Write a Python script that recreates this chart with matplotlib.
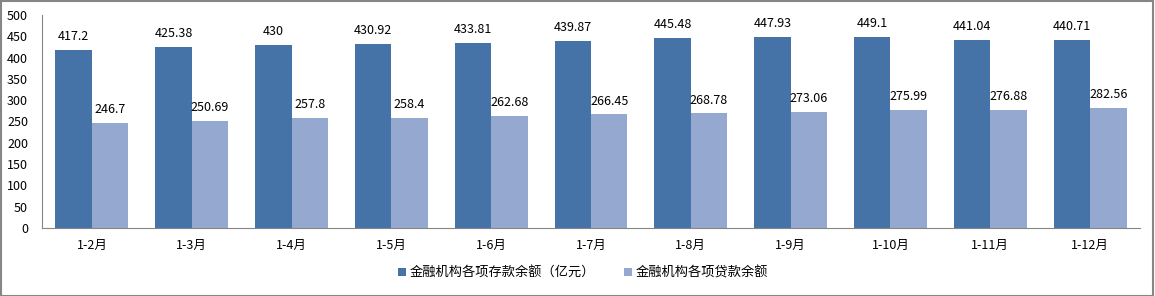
import numpy as np
import matplotlib
matplotlib.use("Agg")
import matplotlib.pyplot as plt

plt.rcParams['font.family'] = ['Noto Sans CJK SC', 'DejaVu Sans']

months = ['1-2月', '1-3月', '1-4月', '1-5月', '1-6月', '1-7月',
          '1-8月', '1-9月', '1-10月', '1-11月', '1-12月']
deposits = [417.2, 425.38, 430, 430.92, 433.81, 439.87,
            445.48, 447.93, 449.1, 441.04, 440.71]
loans = [246.7, 250.69, 257.8, 258.4, 262.68, 266.45,
         268.78, 273.06, 275.99, 276.88, 282.56]
deposit_labels = ['417.2', '425.38', '430', '430.92', '433.81', '439.87',
                  '445.48', '447.93', '449.1', '441.04', '440.71']
loan_labels = ['246.7', '250.69', '257.8', '258.4', '262.68', '266.45',
               '268.78', '273.06', '275.99', '276.88', '282.56']
series_names = ['金融机构各项存款余额（亿元）', '金融机构各项贷款余额']

c_dep = '#4572A7'
c_loan = '#95A9D0'

fig = plt.figure(figsize=(11.55, 2.96), dpi=100)
ax = fig.add_axes([42 / 1155, 1 - 228 / 296, (1140 - 42) / 1155, (228 - 15) / 296])

x = np.arange(len(months))
w = 0.365
b1 = ax.bar(x - w / 2, deposits, w, color=c_dep, label=series_names[0])
b2 = ax.bar(x + w / 2, loans, w, color=c_loan, label=series_names[1])
ax.bar_label(b1, labels=deposit_labels, padding=5, fontsize=9)
ax.bar_label(b2, labels=loan_labels, padding=5, fontsize=9)

ax.set_xlim(-0.5, len(months) - 0.5)
ax.set_ylim(0, 500)
ax.set_yticks(range(0, 501, 50))
ax.set_xticks(x)
ax.set_xticklabels(months)
ax.tick_params(axis='x', length=0, labelsize=9, pad=8)
ax.tick_params(axis='y', length=0, labelsize=9, pad=10)
for s in ['top', 'right']:
    ax.spines[s].set_visible(False)
for s in ['left', 'bottom']:
    ax.spines[s].set_color('#868686')

fig.legend(loc='center', bbox_to_anchor=(583 / 1155, 1 - 273 / 296), ncol=2,
           frameon=False, fontsize=9.5, handlelength=0.6, handleheight=0.6,
           columnspacing=2.2, handletextpad=0.3)

fig.patches.append(plt.Rectangle((0.0005, 0.001), 0.998, 0.997, transform=fig.transFigure,
                                 fill=False, edgecolor='#868686', linewidth=1.5))

fig.savefig('out.png', dpi=100)
